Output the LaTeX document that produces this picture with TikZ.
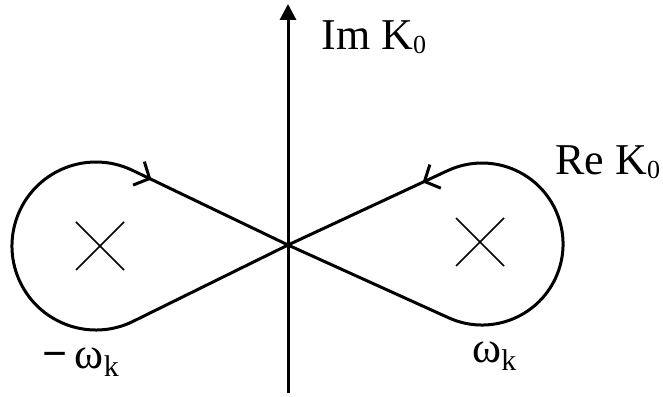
\documentclass[tikz,border=0pt]{standalone}
\usepackage{fontspec}
\setmainfont{Liberation Serif}
\usetikzlibrary{arrows.meta,calc,decorations.markings}
\tikzset{
  contour/.style={
    line width=1.5pt,
    line cap=round,
    line join=round
  },
  flowmark/.style={
    postaction={decorate},
    decoration={markings,
      mark=at position #1 with {\arrow{Straight Barb[length=6pt,width=13pt]}}}
  },
  axisline/.style={
    line width=1.5pt,
    -{Triangle[length=8pt,width=8pt]}
  },
  polemark/.style={
    line width=0.8pt
  },
  axislabel/.style={
    font=\fontsize{22}{22}\selectfont,
    inner sep=0pt
  }
}
\newcommand{\lowsub}[3]{\raisebox{-#1}{\fontsize{#2}{#2}\selectfont #3}}
\newcommand{\polecross}[3]{% name, centre, half size
  \coordinate (#1) at (#2);
  \draw[polemark] ($(#1)+(-#3,-#3)$) -- ($(#1)+(#3,#3)$);
  \draw[polemark] ($(#1)+(-#3,#3)$) -- ($(#1)+(#3,-#3)$);
}

\begin{document}
\begin{tikzpicture}[x=0.5pt,y=0.5pt]
\useasboundingbox (0,0) rectangle (663,396);

% Crossing point, axis ends and tangent points.
\coordinate (O) at (288,151);
\coordinate (axisbot) at (288,3);
\coordinate (axistop) at (288,392);
\coordinate (Lup) at (132.8,225.5);
\coordinate (Llo) at (132.8,74.5);
\coordinate (Rup) at (448.2,225.6);
\coordinate (Rlo) at (448.2,78.4);

% Imaginary axis.
\draw[axisline] (axisbot) -- (axistop);

% Left loop, run clockwise.
\draw[contour] (O) -- (Llo) arc[start angle=-64, end angle=-296, radius=84];
\draw[contour, flowmark=0.12] (Lup) -- (O);

% Right loop, run counterclockwise.
\draw[contour] (O) -- (Rlo) arc[start angle=245.3, end angle=474.7, radius=81];
\draw[contour, flowmark=0.16] (Rup) -- (O);

% Poles.
\polecross{Lpole}{100,150}{24}
\polecross{Rpole}{480,154}{24}

% Labels.
\node[axislabel, anchor=base west] (imlabel) at (321,346) {Im K\lowsub{2pt}{13}{0}};
\node[axislabel, anchor=base west] (relabel) at (555,221) {Re K\lowsub{2pt}{13}{0}};
\node[axislabel, anchor=base west] (negw) at (42,28) {\textbf{−}\,ω\lowsub{4pt}{15}{k}};
\node[axislabel, anchor=base west] (posw) at (472,34) {ω\lowsub{4pt}{15}{k}};

\end{tikzpicture}
\end{document}
